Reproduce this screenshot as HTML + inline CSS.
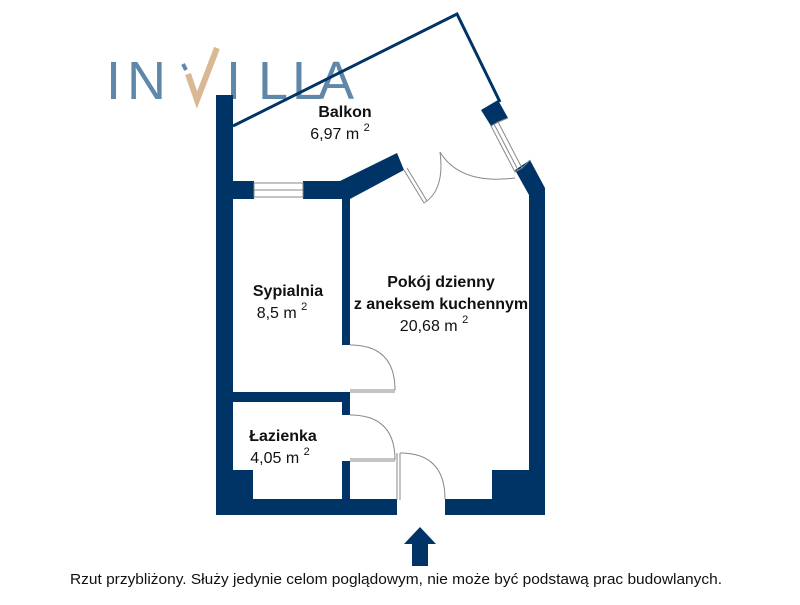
<!DOCTYPE html>
<html><head><style>
body{margin:0;background:#fff;width:800px;height:600px;overflow:hidden;font-family:"Liberation Sans","DejaVu Sans",sans-serif;}
</style></head><body>
<svg width="800" height="600" viewBox="0 0 800 600" xmlns="http://www.w3.org/2000/svg">
<g font-size="54" fill="#5f87aa" font-family="Liberation Sans, sans-serif">
<text x="106" y="99">I</text>
<text x="127" y="99">N</text>
<text x="226" y="99">I</text>
<text x="258" y="99">L</text>
<text x="292" y="99">L</text>
<text x="318" y="99">A</text>
</g>
<path d="M183 64 L186 70" stroke="#5f87aa" stroke-width="4"/>
<path d="M188 74 L197 100 L217 48" stroke="#d9b893" stroke-width="6" fill="none"/>
<g fill="#003366" stroke="none">
<rect x="216" y="95" width="17" height="420"/>
<rect x="216" y="499" width="181" height="16"/>
<rect x="445" y="499" width="100" height="16"/>
<rect x="216" y="470" width="37" height="45"/>
<rect x="492" y="470" width="53" height="45"/>
<rect x="529" y="190" width="16" height="325"/>
<polygon points="515,170 530,160 545,188 545,200 529,200 529,195"/>
<polygon points="481,110 498,100 508,118 491,126"/>
<rect x="232" y="181" width="22" height="18"/>
<rect x="303" y="181" width="40" height="18"/>
<polygon points="340,181 397,153 404,170 350,199 340,199"/>
<rect x="342" y="190" width="8" height="155"/>
<rect x="232" y="392" width="118" height="10"/>
<rect x="342" y="392" width="8" height="23"/>
<rect x="342" y="461" width="8" height="40"/>
<polygon points="420,527 436,544 428,544 428,566 412,566 412,544 404,544"/>
</g>
<polyline points="233,126 457,14 500,102" fill="none" stroke="#003366" stroke-width="3"/>
<g fill="none" stroke="#888" stroke-width="1">
<rect x="254" y="183" width="49" height="14"/>
<line x1="254" y1="190" x2="303" y2="190"/>
<polygon points="491,126 498,122 522,168 515,172"/>
<line x1="494" y1="124" x2="518" y2="170"/>
<line x1="498" y1="122" x2="508" y2="118"/><line x1="522" y1="168" x2="530" y2="160"/>
<line x1="404" y1="170" x2="424" y2="203"/><line x1="407" y1="168" x2="427" y2="201"/>
<path d="M424 203 Q445 190 440 152"/>
<path d="M440 152 Q460 185 515 178"/>
<path d="M350 345 Q395 345 395 390"/><line x1="350" y1="390" x2="395" y2="390"/><line x1="350" y1="392" x2="395" y2="392"/>
<path d="M350 415 Q395 415 395 460"/><line x1="350" y1="459" x2="395" y2="459"/><line x1="350" y1="461" x2="395" y2="461"/>
<path d="M400 453 Q445 453 445 499"/><line x1="397" y1="453" x2="397" y2="500"/><line x1="400" y1="453" x2="400" y2="500"/>
</g>
<g fill="#111" text-anchor="middle" font-size="16">
<text x="345" y="117" font-weight="bold">Balkon</text>
<text x="340" y="139">6,97 m <tspan font-size="11" dy="-8">2</tspan></text>
<text x="288" y="296" font-weight="bold">Sypialnia</text>
<text x="282" y="318">8,5 m <tspan font-size="11" dy="-8">2</tspan></text>
<text x="441" y="287" font-weight="bold">Pokój dzienny</text>
<text x="441" y="309" font-weight="bold">z aneksem kuchennym</text>
<text x="434" y="331">20,68 m <tspan font-size="11" dy="-8">2</tspan></text>
<text x="283" y="441" font-weight="bold">Łazienka</text>
<text x="280" y="463">4,05 m <tspan font-size="11" dy="-8">2</tspan></text>
</g>
<text x="70" y="584" font-size="14.5" fill="#111" textLength="652" lengthAdjust="spacingAndGlyphs">Rzut przybliżony. Służy jedynie celom poglądowym, nie może być podstawą prac budowlanych.</text>
</svg>
</body></html>
